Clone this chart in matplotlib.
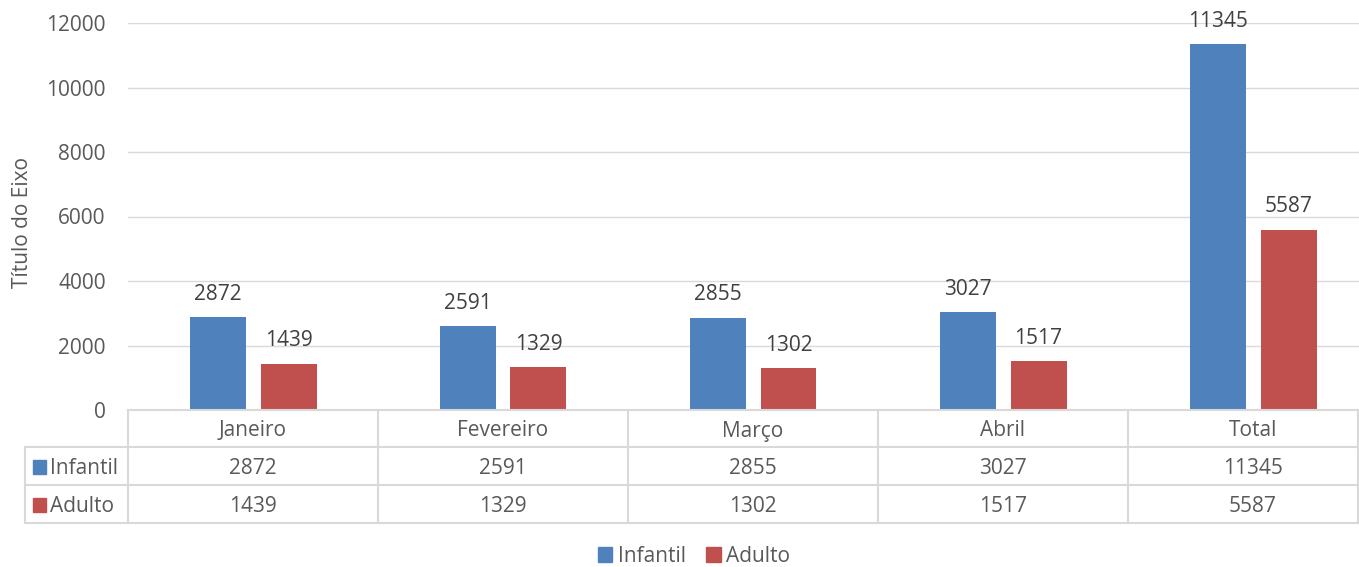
import matplotlib
matplotlib.use("Agg")
import matplotlib.pyplot as plt
from matplotlib.patches import Rectangle
from matplotlib.lines import Line2D
import numpy as np

categories = ["Janeiro", "Fevereiro", "Março", "Abril", "Total"]
infantil = [2872, 2591, 2855, 3027, 11345]
adulto = [1439, 1329, 1302, 1517, 5587]
series_names = ["Infantil", "Adulto"]
yticks = [0, 2000, 4000, 6000, 8000, 10000, 12000]

BLUE = "#4F81BD"
RED = "#C0504D"
TXT = "#595959"
GRID = "#D9D9D9"
FS = 15
plt.rcParams['font.family'] = ['Open Sans', 'DejaVu Sans']

W, H = 1359, 567
fig = plt.figure(figsize=(W / 100, H / 100), dpi=100)

def fx(px):
    return px / W

def fy(py):
    return 1 - py / H

left, right = 128, 1378
top, zero = 23, 410
ax = fig.add_axes([fx(left), fy(zero), fx(right - left), fy(top) - fy(zero)])
n = len(categories)
x = np.arange(n)
bw = 0.224
gap = 0.06
b1 = ax.bar(x - (bw + gap) / 2, infantil, bw, color=BLUE)
b2 = ax.bar(x + (bw + gap) / 2, adulto, bw, color=RED)
ax.set_xlim(-0.5, n - 0.5)
ax.set_ylim(0, 12000)
ax.set_yticks(yticks)
ax.set_yticklabels([str(t) for t in yticks], fontsize=FS, color=TXT)
ax.tick_params(axis='y', length=0, pad=16)
ax.set_xticks([])
ax.grid(axis='y', color=GRID, linewidth=1)
ax.set_axisbelow(True)
for s in ax.spines.values():
    s.set_visible(False)
for bars, vals in ((b1, infantil), (b2, adulto)):
    for r, v in zip(bars, vals):
        ax.annotate(str(v), (r.get_x() + r.get_width() / 2, v), xytext=(0, 9),
                    textcoords="offset points", ha="center", va="bottom",
                    fontsize=FS, color="#404040")
fig.text(fx(22), fy(222), "Título do Eixo", rotation=90, ha="center", va="center",
         fontsize=FS, color=TXT)

# data table
rows_y = [410, 447, 485, 523]
tl, tr = 25, 1358
col_w = (right - left) / n
lw = 1.5
def hline(y, x0, x1):
    fig.add_artist(Line2D([fx(x0), fx(x1)], [fy(y), fy(y)], color=GRID, lw=lw))
def vline(xp, y0, y1):
    fig.add_artist(Line2D([fx(xp), fx(xp)], [fy(y0), fy(y1)], color=GRID, lw=lw))
hline(rows_y[0], left, tr)
for yy in rows_y[1:]:
    hline(yy, tl, tr)
vline(tl, rows_y[1], rows_y[3])
for i in range(n):
    vline(left + i * col_w, rows_y[0], rows_y[3])
vline(tr, rows_y[0], rows_y[3])
dy = 2.5
for i, c in enumerate(categories):
    cx = left + (i + 0.5) * col_w
    fig.text(fx(cx), fy((rows_y[0] + rows_y[1]) / 2 + dy), c, ha="center", va="center", fontsize=FS, color=TXT)
    fig.text(fx(cx), fy((rows_y[1] + rows_y[2]) / 2 + dy), str(infantil[i]), ha="center", va="center", fontsize=FS, color=TXT)
    fig.text(fx(cx), fy((rows_y[2] + rows_y[3]) / 2 + dy), str(adulto[i]), ha="center", va="center", fontsize=FS, color=TXT)
for r, (name, col) in enumerate(zip(series_names, [BLUE, RED])):
    cy = (rows_y[r + 1] + rows_y[r + 2]) / 2
    fig.add_artist(Rectangle((fx(33), fy(cy + 8)), fx(13), fy(cy - 6) - fy(cy + 8), color=col))
    fig.text(fx(50), fy(cy + dy), name, ha="left", va="center", fontsize=FS, color=TXT)

# legend
handles = [Rectangle((0, 0), 1, 1, color=BLUE), Rectangle((0, 0), 1, 1, color=RED)]
fig.legend(handles, series_names, loc="center", bbox_to_anchor=(fx(694), fy(556)), ncol=2,
           frameon=False, fontsize=FS, handlelength=0.7, handleheight=0.7, handletextpad=0.25,
           columnspacing=1.0, labelcolor=TXT, borderpad=0.2)

fig.savefig("out.png", dpi=100)
